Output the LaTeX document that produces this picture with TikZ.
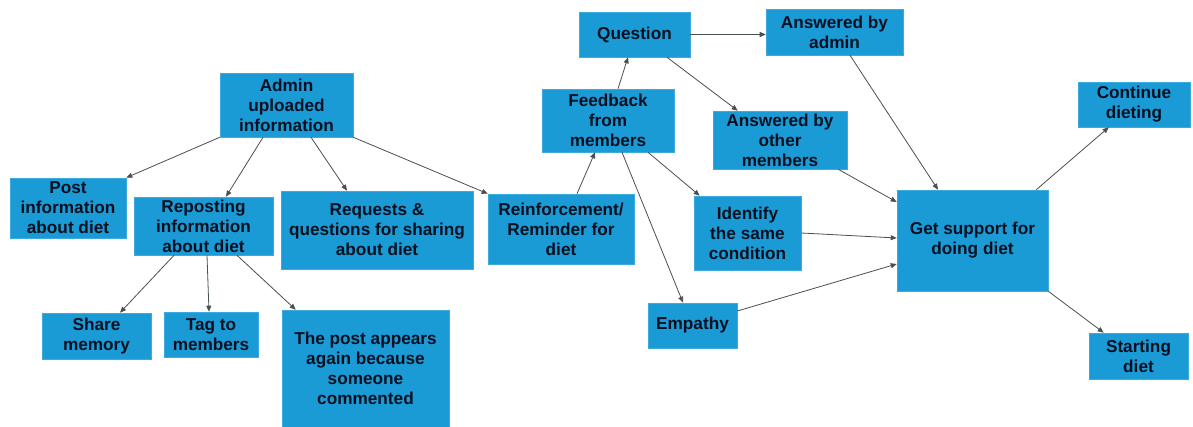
\documentclass[tikz,border=0pt]{standalone}
\usepackage{fontspec}
\setmainfont{Liberation Sans}
\usetikzlibrary{arrows.meta,calc}
\definecolor{boxblue}{RGB}{26,155,214}
\definecolor{txt}{RGB}{8,16,32}
\definecolor{arr}{RGB}{72,80,80}
\begin{document}
\begin{tikzpicture}[x=1pt,y=-1pt,
  box/.style={fill=boxblue, draw=boxblue!85!white, line width=0.6pt, inner sep=0pt, align=center,
    text=txt, font=\fontsize{17.2}{20}\selectfont\bfseries},
  conn/.style={draw=arr, line width=0.8pt, -{Triangle[length=6pt,width=5pt]}}]
\useasboundingbox (0,0) rectangle (1193,427);
\fill[white] (0,0) rectangle (1193,427);
% nodes
\node[box, minimum width=133, minimum height=64] (admin) at (286.5,105) {Admin\\uploaded\\information};
\node[box, minimum width=116, minimum height=60] (post) at (68,208) {Post\\information\\about diet};
\node[box, minimum width=139, minimum height=58] (repost) at (203.5,226) {Reposting\\information\\about diet};
\node[box, minimum width=192, minimum height=78] (req) at (377,230) {Requests \&\\questions for sharing\\about diet};
\node[box, minimum width=146, minimum height=70] (reinf) at (561,229) {Reinforcement/\\Reminder for\\diet};
\node[box, minimum width=132, minimum height=63] (feed) at (608,120.5) {Feedback\\from\\members};
\node[box, minimum width=111, minimum height=45] (quest) at (634.5,34.5) {Question};
\node[box, minimum width=137, minimum height=46] (ansadmin) at (834.5,32) {Answered by\\admin};
\node[box, minimum width=134, minimum height=58] (ansother) at (780,140) {Answered by\\other\\members};
\node[box, minimum width=107, minimum height=74] (ident) at (747.5,233) {Identify\\the same\\condition};
\node[box, minimum width=89, minimum height=45] (emp) at (692.5,325.5) {Empathy};
\node[box, minimum width=151, minimum height=101] (get) at (972.5,240.5) {Get support for\\doing diet};
\node[box, minimum width=112, minimum height=45] (cont) at (1134,104.5) {Continue\\dieting};
\node[box, minimum width=99, minimum height=46] (start) at (1138.5,356) {Starting\\diet};
\node[box, minimum width=109, minimum height=46] (share) at (96.5,336) {Share\\memory};
\node[box, minimum width=94, minimum height=45] (tag) at (211,334.5) {Tag to\\members};
\node[box, minimum width=167, minimum height=117] (again) at (365.5,368.5) {The post appears\\again because\\someone\\commented};
% connectors
\draw[conn] (admin.south west) -- (post.north east);
\draw[conn] ([xshift=-23.5]admin.south) -- ([xshift=22.5]repost.north);
\draw[conn] ([xshift=24.5]admin.south) -- ([xshift=-30]req.north);
\draw[conn] (admin.south east) -- (reinf.north west);
\draw[conn] ([xshift=-29.5]repost.south) -- ([xshift=23.5]share.north);
\draw[conn] ([xshift=3.5]repost.south) -- ([xshift=-2]tag.north);
\draw[conn] ([xshift=33.5]repost.south) -- ([xshift=14]again.north west);
\draw[conn] ([xshift=16]reinf.north) -- ([xshift=-13]feed.south);
\draw[conn] ([xshift=10]feed.north) -- ([xshift=-6.5]quest.south);
\draw[conn] (quest.east) -- (quest.east -| ansadmin.west);
\draw[conn] ([xshift=32.5]quest.south) -- ([xshift=25]ansother.north west);
\draw[conn] ([xshift=40]feed.south) -- ([xshift=6]ident.north west);
\draw[conn] ([xshift=14]feed.south) -- ([xshift=-9.5]emp.north);
\draw[conn] ([xshift=15.5]ansadmin.south) -- ([xshift=-34.5]get.north);
\draw[conn] ([xshift=-9]ansother.south east) -- ([yshift=38.5]get.west);
\draw[conn] (ident.east) -- ([yshift=2.5]get.west);
\draw[conn] ([yshift=14.5]emp.east) -- ([yshift=-23.5]get.west);
\draw[conn] ([xshift=-12]get.north east) -- ([xshift=31]cont.south west);
\draw[conn] (get.south east) -- ([xshift=15]start.north west);
\end{tikzpicture}
\end{document}
